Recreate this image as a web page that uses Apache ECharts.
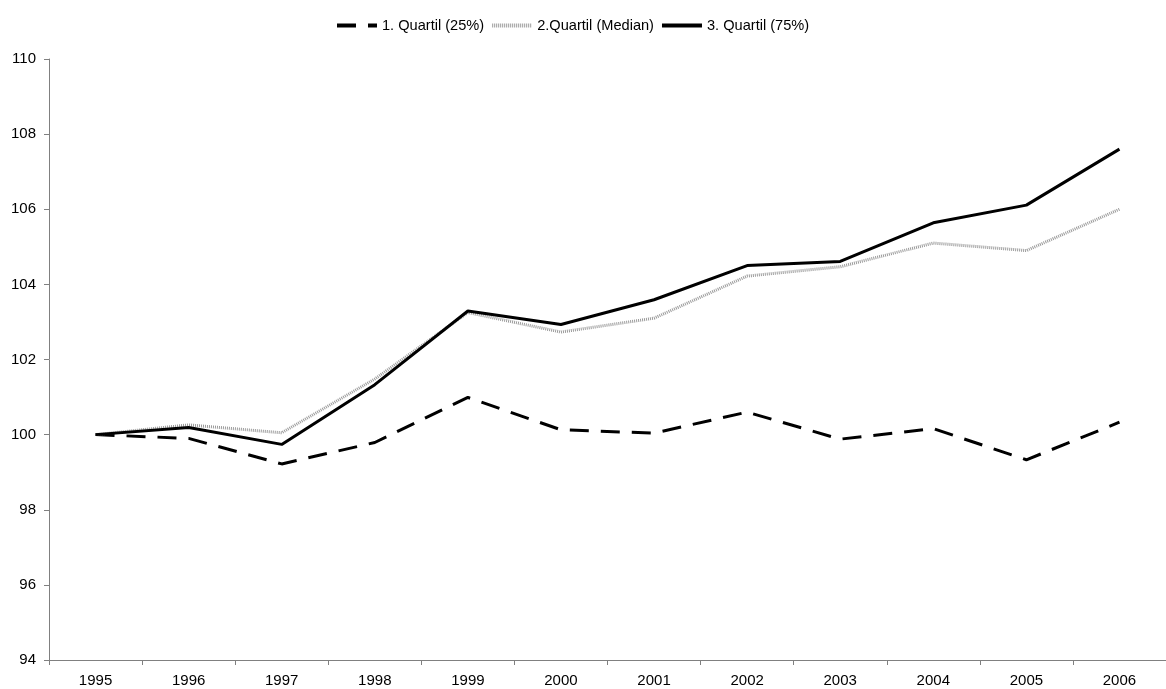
<!DOCTYPE html>
<html>
<head>
<meta charset="utf-8">
<script src="https://cdn.jsdelivr.net/npm/echarts@6/dist/echarts.min.js"></script>
<style>
  html, body { margin: 0; padding: 0; background: #fff; }
  #chart { width: 1166px; height: 689px; }
</style>
</head>
<body>
<div id="chart"></div>
<script>
// Jahre (x-Achse)
var years = ['1995', '1996', '1997', '1998', '1999', '2000', '2001', '2002', '2003', '2004', '2005', '2006'];
// Quartile, Index 1995 = 100
var quartil1 = [100, 99.9, 99.22, 99.79, 100.99, 100.13, 100.04, 100.6, 99.88, 100.16, 99.33, 100.33];
var median = [100, 100.26, 100.05, 101.48, 103.25, 102.73, 103.1, 104.22, 104.47, 105.1, 104.9, 106.0];
var quartil3 = [100, 100.19, 99.74, 101.33, 103.29, 102.93, 103.59, 104.5, 104.61, 105.64, 106.11, 107.6];
var seriesNames = ['1. Quartil (25%)', '2.Quartil (Median)', '3. Quartil (75%)'];

var chart = echarts.init(document.getElementById('chart'));
var font = 'Liberation Sans, Arial, sans-serif';

var option = {
    backgroundColor: '#fff',
    animation: false,
    legend: {
        top: 13,
        left: 330,
        itemWidth: 40,
        itemHeight: 14,
        itemGap: 6,
        // nur die Linie zeigen, keinen Kreis
        itemStyle: { color: 'transparent', borderColor: 'transparent', borderWidth: 0 },
        lineStyle: { width: 4 },
        textStyle: { fontFamily: font, fontSize: 14.6, color: '#000' },
        data: seriesNames
    },
    grid: {
        left: 49,
        top: 59,
        width: 1128,
        bottom: 29,
        containLabel: false
    },
    xAxis: {
        type: 'category',
        data: years,
        boundaryGap: true,
        axisLine: { lineStyle: { color: '#808080', width: 1 } },
        axisTick: { show: true, length: 5, lineStyle: { color: '#808080' } },
        axisLabel: { fontFamily: font, fontSize: 15, color: '#000', margin: 13 },
        splitLine: { show: false }
    },
    yAxis: {
        type: 'value',
        min: 94,
        max: 110,
        interval: 2,
        axisLine: { show: true, lineStyle: { color: '#808080', width: 1 } },
        axisTick: { show: true, length: 5, lineStyle: { color: '#808080' } },
        axisLabel: { fontFamily: font, fontSize: 15, color: '#000', margin: 13 },
        splitLine: { show: false }
    },
    series: [{
        name: seriesNames[0],
        type: 'line',
        data: quartil1,
        symbol: 'none',
        lineStyle: { color: '#000', width: 3, type: [19, 12] },
        itemStyle: { color: '#000' }
    }, {
        name: seriesNames[1],
        type: 'line',
        data: median,
        symbol: 'none',
        lineStyle: { color: '#9a9a9a', width: 3, type: [1, 1] },
        itemStyle: { color: '#9a9a9a' }
    }, {
        name: seriesNames[2],
        type: 'line',
        data: quartil3,
        symbol: 'none',
        lineStyle: { color: '#000', width: 3 },
        itemStyle: { color: '#000' }
    }]
};
chart.setOption(option);
</script>
</body>
</html>
